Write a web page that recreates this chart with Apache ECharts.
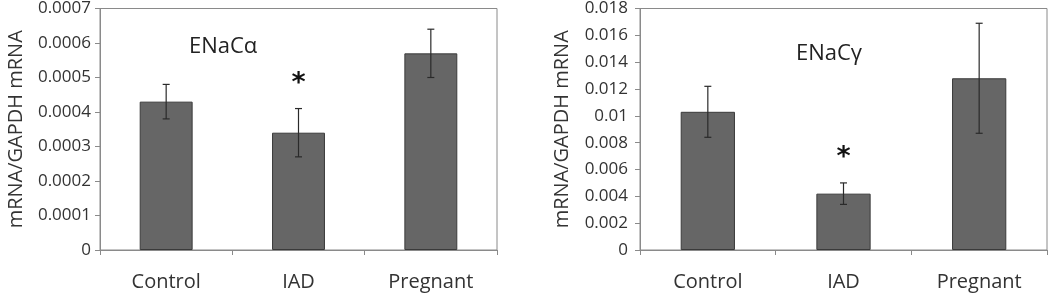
<!DOCTYPE html>
<html>
<head>
<meta charset="utf-8">
<script src="https://cdn.jsdelivr.net/npm/echarts@6/dist/echarts.min.js"></script>
<style>
  html, body { margin: 0; padding: 0; background: #fff; }
  #chart { width: 1050px; height: 295px; }
</style>
</head>
<body>
<div id="chart"></div>
<script>
"use strict";
// 数据
var groups = ['Control', 'IAD', 'Pregnant'];
var alphaMean = [0.00043, 0.00034, 0.00057];
var alphaErr = [0.00005, 0.00007, 0.00007];
var gammaMean = [0.0103, 0.0042, 0.0128];
var gammaErr = [0.0019, 0.0008, 0.0041];
var sigFlags = [0, 1, 0]; // 星号标记
var yTitle = 'mRNA/GAPDH mRNA';

var textColor = '#333333';
var font = 'Open Sans';

function fmtTick(v) {
    if (v === 0) return '0';
    return String(parseFloat(v.toFixed(4)));
}

// 误差线 + 星号
function renderErr(params, api) {
    var x = api.value(0), m = api.value(1), e = api.value(2), sig = api.value(3);
    var hi = api.coord([x, m + e]);
    var lo = api.coord([x, m - e]);
    var cap = 3.5;
    var st = { stroke: '#2a2a2a', lineWidth: 1.2 };
    var children = [
        { type: 'line', shape: { x1: hi[0], y1: hi[1], x2: lo[0], y2: lo[1] }, style: st },
        { type: 'line', shape: { x1: hi[0] - cap, y1: hi[1], x2: hi[0] + cap, y2: hi[1] }, style: st },
        { type: 'line', shape: { x1: lo[0] - cap, y1: lo[1], x2: lo[0] + cap, y2: lo[1] }, style: st }
    ];
    if (sig) {
        children.push({
            type: 'text', x: hi[0], y: hi[1] - 25,
            style: { text: '*', fill: '#111', font: 'bold 27px "DejaVu Sans"', align: 'center', verticalAlign: 'middle' }
        });
    }
    return { type: 'group', children: children };
}

function errData(means, errs) {
    return means.map(function (m, i) { return [i, m, errs[i], sigFlags[i]]; });
}

function xAxisCfg(gi) {
    return {
        type: 'category', gridIndex: gi, data: groups,
        axisLine: { lineStyle: { color: '#8a8a8a', width: 1 } },
        axisTick: { show: true, length: 5, lineStyle: { color: '#8a8a8a' } },
        axisLabel: { color: textColor, fontSize: 20, fontFamily: font, margin: 22 }
    };
}

function yAxisCfg(gi, max, interval, gap, margin) {
    return {
        type: 'value', gridIndex: gi, min: 0, max: max, interval: interval,
        name: yTitle, nameLocation: 'middle', nameGap: gap,
        nameTextStyle: { color: textColor, fontSize: 20, fontFamily: font },
        axisLine: { show: true, lineStyle: { color: '#8a8a8a', width: 1 } },
        axisTick: { show: true, length: 5, lineStyle: { color: '#8a8a8a' } },
        splitLine: { show: false },
        axisLabel: { color: textColor, fontSize: 17, fontFamily: font, margin: margin, formatter: fmtTick }
    };
}

var barStyle = { color: '#666666', borderColor: '#3a3a3a', borderWidth: 1 };

var myChart = echarts.init(document.getElementById('chart'));
myChart.setOption({
    animation: false,
    backgroundColor: '#ffffff',
    title: [
        { text: 'ENaCα', left: 184, top: 31, textStyle: { color: '#222', fontSize: 22, fontWeight: 'normal', fontFamily: font } },
        { text: 'ENaCγ', left: 791, top: 38, textStyle: { color: '#222', fontSize: 22, fontWeight: 'normal', fontFamily: font } }
    ],
    grid: [
        { left: 100, top: 5, width: 397, height: 245, show: true, borderColor: '#8a8a8a', borderWidth: 1 },
        { left: 640, top: 5, width: 407, height: 245, show: true, borderColor: '#8a8a8a', borderWidth: 1 }
    ],
    xAxis: [xAxisCfg(0), xAxisCfg(1)],
    yAxis: [yAxisCfg(0, 0.0007, 0.0001, 74, 9), yAxisCfg(1, 0.018, 0.002, 68, 12)],
    series: [
        { type: 'bar', xAxisIndex: 0, yAxisIndex: 0, data: alphaMean, barWidth: '40%', itemStyle: barStyle },
        { type: 'custom', xAxisIndex: 0, yAxisIndex: 0, data: errData(alphaMean, alphaErr), renderItem: renderErr, z: 5 },
        { type: 'bar', xAxisIndex: 1, yAxisIndex: 1, data: gammaMean, barWidth: '40%', itemStyle: barStyle },
        { type: 'custom', xAxisIndex: 1, yAxisIndex: 1, data: errData(gammaMean, gammaErr), renderItem: renderErr, z: 5 }
    ]
});

window.onresize = function () {
    myChart.resize();
};
</script>
</body>
</html>
